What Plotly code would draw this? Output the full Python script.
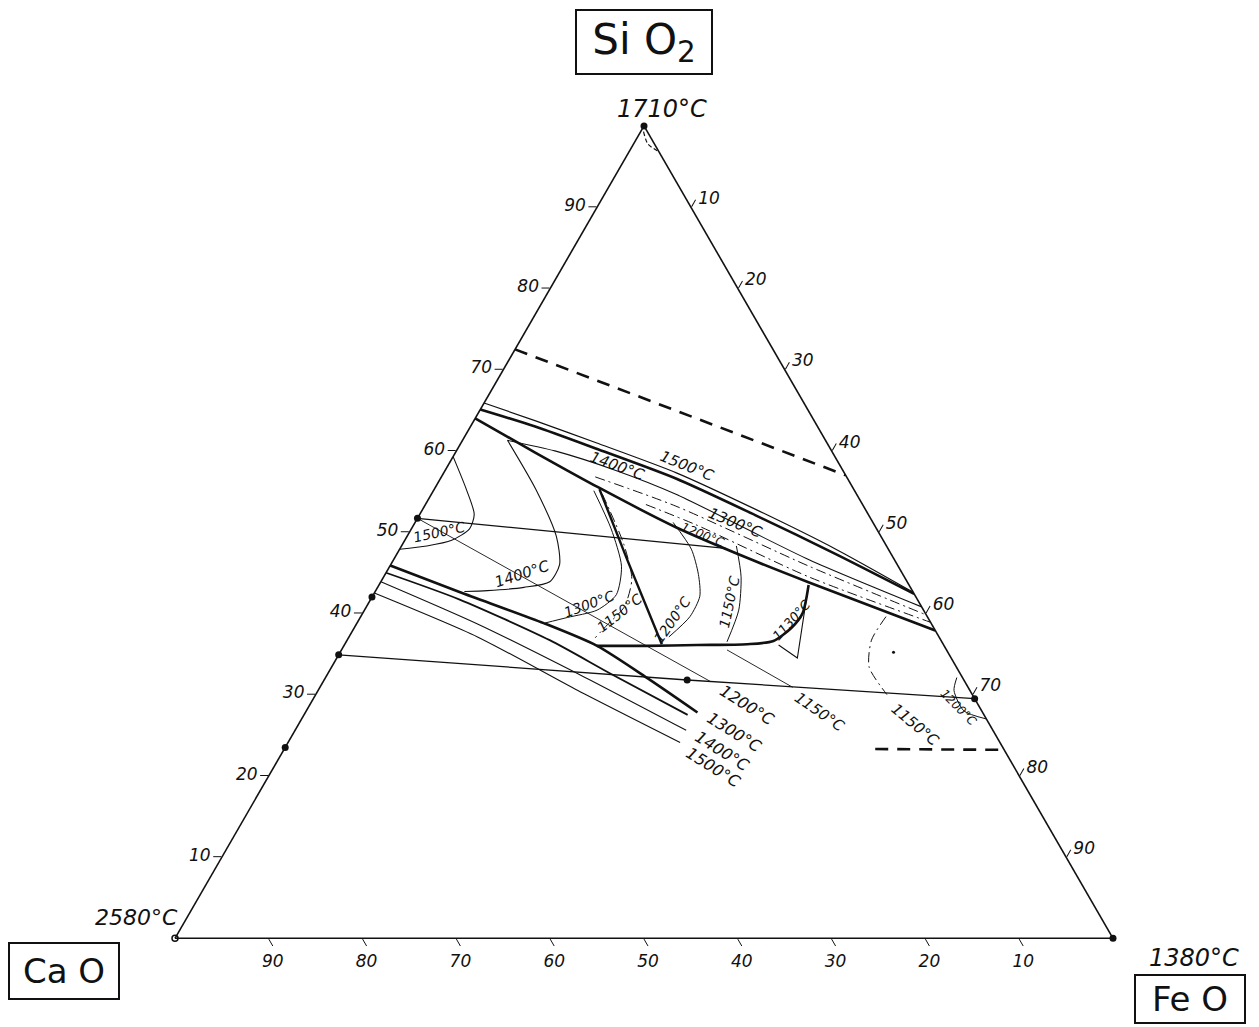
import math
import plotly.graph_objects as go

INK = "#111111"
FIG_W, FIG_H = 1259, 1027
# triangle placement (pixels): left corner x, side length, baseline y
TRI_LEFT, TRI_SIDE, TRI_BASE = 175.0, 938.0, 938.3
TRI_H = TRI_SIDE * math.sqrt(3) / 2

TICKS = [10, 20, 30, 40, 50, 60, 70, 80, 90]

# ---- compositions in wt.%: SiO2 and FeO, CaO is the balance ----
# 1500 °C liquidus in the silica field (drawn as a double line)
iso1500_top_sio2 = [65.9, 63.7, 61.0, 57.3, 52.8, 47.9, 42.6]
iso1500_top_feo = [0.0, 6.6, 14.4, 24.8, 35.5, 46.5, 57.4]
iso1500_sio2 = [65.1, 63.0, 60.3, 56.6, 52.1, 47.3, 42.4]
iso1500_feo = [0.0, 6.9, 14.7, 25.1, 35.8, 46.8, 57.6]

# silica field boundary
silica_bnd_sio2 = [64.0, 59.8, 55.5, 50.6, 46.9, 43.8, 37.9]
silica_bnd_feo = [0.0, 8.5, 17.4, 28.1, 37.4, 45.7, 62.1]

# 1400 °C isotherm: silica-field branch and wollastonite-field loop
iso1400_si_sio2 = [40.8, 46.6, 54.7, 57.6, 60.0, 61.3]
iso1400_si_feo = [59.2, 44.3, 26.0, 18.2, 10.5, 4.8]
iso1400_wo_sio2 = [61.3, 55.3, 49.5, 46.0, 43.9, 43.2, 42.8, 42.7]
iso1400_wo_feo = [4.8, 10.8, 15.9, 18.0, 18.0, 15.6, 11.9, 9.5]

# 1300 / 1200 °C isotherms in the silica field (dash-dot)
iso1300_si_sio2 = [56.8, 53.2, 45.8, 39.8]
iso1300_si_feo = [16.4, 26.8, 44.7, 60.2]
iso1200_si_sio2 = [53.4, 50.9, 44.5, 38.9]
iso1200_si_feo = [23.5, 30.1, 45.3, 61.1]

# 1500 °C loop near CaO·SiO2
iso1500_wo_sio2 = [59.3, 55.3, 52.2, 50.4, 49.0, 48.3, 47.9]
iso1500_wo_feo = [0.0, 3.4, 5.8, 6.2, 5.0, 2.7, 0.0]

# wollastonite / olivine field boundaries
wo_bnd_sio2 = [55.3, 46.5, 36.2]
wo_bnd_feo = [17.6, 25.0, 33.8]
ol_bnd_sio2 = [36.0, 36.0, 36.1, 36.2, 36.6, 38.2, 40.0, 43.5]
ol_bnd_feo = [27.0, 32.3, 37.6, 42.9, 45.5, 46.6, 46.9, 45.8]
eut_sio2 = [43.2, 34.5, 36.1]
eut_feo = [45.9, 49.1, 46.3]

# isotherms inside the wollastonite field
iso1300_wo_sio2 = [55.1, 50.4, 45.8, 42.3, 40.4, 39.5, 38.8]
iso1300_wo_feo = [17.1, 21.3, 24.7, 25.9, 24.8, 22.1, 20.0]
iso1150_wo_sio2 = [54.7, 48.5, 44.2, 40.8, 38.6, 37.0]
iso1150_wo_feo = [18.2, 23.6, 26.6, 27.5, 26.8, 26.3]
iso1200_wo_sio2 = [51.2, 47.9, 44.8, 42.1, 39.6, 37.1]
iso1200_wo_feo = [27.5, 31.1, 33.4, 34.9, 35.1, 34.1]
iso1150_mid_sio2 = [48.3, 44.5, 40.4, 36.5]
iso1150_mid_feo = [35.7, 38.1, 39.9, 40.6]
iso1150_ol_sio2 = [39.6, 36.7, 33.4, 30.0]
iso1150_ol_feo = [56.0, 55.9, 57.3, 60.9]
iso1200_fa_sio2 = [32.1, 30.5, 28.0, 27.0]
iso1200_fa_feo = [67.3, 67.8, 70.1, 73.0]

# isotherms of the dicalcium silicate field
iso1200_cs_sio2 = [45.9, 42.6, 38.8, 36.0, 32.0, 27.8]
iso1200_cs_feo = [0.0, 9.1, 19.9, 27.0, 34.4, 41.8]
iso1300_cs_sio2 = [45.0, 41.7, 36.7, 32.6, 27.5]
iso1300_cs_feo = [0.0, 9.5, 21.6, 30.1, 40.9]
iso1400_cs_sio2 = [43.9, 38.7, 32.6, 25.6]
iso1400_cs_feo = [0.0, 12.9, 26.6, 41.7]
iso1500_cs_sio2 = [42.5, 37.1, 30.5, 24.1]
iso1500_cs_feo = [0.0, 13.7, 27.7, 41.8]

# joins
join_wo_sio2 = [51.7, 48.0]
join_wo_feo = [0.0, 34.7]
join_c2s_fa_sio2 = [34.9, 31.8, 29.5]
join_c2s_fa_feo = [0.0, 38.7, 70.5]
tie1_sio2 = [51.7, 31.6]
tie1_feo = [0.0, 41.3]
tie2_sio2 = [35.5, 30.9]
tie2_feo = [41.1, 50.4]

# two-liquid limits (dashed)
gap_top_sio2 = [72.5, 57.0]
gap_top_feo = [0.0, 43.0]
gap_apex_sio2 = [99.3, 97.8, 96.8]
gap_apex_feo = [0.3, 1.5, 3.2]
gap_fe_sio2 = [23.3, 23.2]
gap_fe_feo = [63.0, 76.8]

# compounds and end members
edge_dot_sio2 = [51.7, 42.0, 34.9, 23.5, 31.8, 29.5, 100.0, 0.0]
edge_dot_feo = [0.0, 0.0, 0.0, 0.0, 38.7, 70.5, 0.0, 100.0]
minor_dot_sio2 = [35.2]
minor_dot_feo = [59.0]

# temperature labels
label_text = ["1500°C", "1400°C", "1300°C", "1200°C", "1500°C", "1400°C",
              "1300°C", "1150°C", "1200°C", "1150°C", "1130°C", "1200°C",
              "1300°C", "1400°C", "1500°C", "1150°C", "1150°C", "1200°C"]
label_sio2 = [58.2, 58.1, 51.1, 49.6, 50.0, 44.8, 41.1, 40.1, 39.2, 41.4,
              39.2, 28.7, 25.3, 23.0, 21.0, 27.8, 26.3, 28.4]
label_feo = [25.5, 18.1, 34.2, 31.5, 3.2, 14.6, 23.6, 27.3, 33.4, 38.4,
             46.2, 46.7, 47.0, 46.9, 46.9, 54.8, 65.8, 69.4]
label_angle = [22, 20, 22, 22, -12, -18, -20, -38, -55, -78, -48, 32, 32,
               32, 32, 35, 40, 45]
label_size = [15, 15, 15, 12, 14, 15, 14, 14, 14, 14, 13, 16, 16, 16, 16,
              15, 15, 12]

fig = go.Figure()


def add_curve(sio2, feo, width=1.0, dash="solid", smooth=True):
    cao = [round(100 - s - f, 2) for s, f in zip(sio2, feo)]
    fig.add_trace(go.Scatterternary(
        a=sio2, b=cao, c=feo, mode="lines",
        line=dict(color=INK, width=width, dash=dash,
                  shape="spline" if smooth else "linear", smoothing=0.7),
        hoverinfo="skip", showlegend=False, cliponaxis=False))


DASHDOT = "10px,4px,2px,4px"
GAPDASH = "13px,9px"

add_curve(iso1500_top_sio2, iso1500_top_feo, 1.2)
add_curve(iso1500_sio2, iso1500_feo, 2.6)
add_curve(silica_bnd_sio2, silica_bnd_feo, 2.6)
add_curve(iso1400_si_sio2, iso1400_si_feo, 1.1)
add_curve(iso1400_wo_sio2, iso1400_wo_feo, 1.1)
add_curve(iso1300_si_sio2, iso1300_si_feo, 1.0, DASHDOT)
add_curve(iso1200_si_sio2, iso1200_si_feo, 1.0, DASHDOT)
add_curve(iso1500_wo_sio2, iso1500_wo_feo, 1.1)
add_curve(wo_bnd_sio2, wo_bnd_feo, 2.4, smooth=False)
add_curve(ol_bnd_sio2, ol_bnd_feo, 2.6)
add_curve(eut_sio2, eut_feo, 1.1, smooth=False)
add_curve(iso1300_wo_sio2, iso1300_wo_feo, 1.0)
add_curve(iso1150_wo_sio2, iso1150_wo_feo, 1.0, DASHDOT)
add_curve(iso1200_wo_sio2, iso1200_wo_feo, 1.0)
add_curve(iso1150_mid_sio2, iso1150_mid_feo, 1.0)
add_curve(iso1150_ol_sio2, iso1150_ol_feo, 1.0, DASHDOT)
add_curve(iso1200_fa_sio2, iso1200_fa_feo, 1.0)
add_curve(iso1200_cs_sio2, iso1200_cs_feo, 2.6)
add_curve(iso1300_cs_sio2, iso1300_cs_feo, 1.8)
add_curve(iso1400_cs_sio2, iso1400_cs_feo, 1.1)
add_curve(iso1500_cs_sio2, iso1500_cs_feo, 1.1)
add_curve(join_wo_sio2, join_wo_feo, 1.3, smooth=False)
add_curve(join_c2s_fa_sio2, join_c2s_fa_feo, 1.3, smooth=False)
add_curve(tie1_sio2, tie1_feo, 0.9, smooth=False)
add_curve(tie2_sio2, tie2_feo, 0.9, smooth=False)
add_curve(gap_top_sio2, gap_top_feo, 2.6, GAPDASH, smooth=False)
add_curve(gap_apex_sio2, gap_apex_feo, 1.2, "4px,3px")
add_curve(gap_fe_sio2, gap_fe_feo, 2.6, GAPDASH, smooth=False)

fig.add_trace(go.Scatterternary(
    a=edge_dot_sio2, c=edge_dot_feo,
    b=[100 - s - f for s, f in zip(edge_dot_sio2, edge_dot_feo)],
    mode="markers", marker=dict(color=INK, size=7),
    hoverinfo="skip", showlegend=False, cliponaxis=False))
fig.add_trace(go.Scatterternary(
    a=minor_dot_sio2, c=minor_dot_feo,
    b=[100 - s - f for s, f in zip(minor_dot_sio2, minor_dot_feo)],
    mode="markers", marker=dict(color=INK, size=3),
    hoverinfo="skip", showlegend=False))
fig.add_trace(go.Scatterternary(
    a=[0.0], b=[100.0], c=[0.0], mode="markers",
    marker=dict(color="white", size=6, line=dict(color=INK, width=1.5)),
    hoverinfo="skip", showlegend=False, cliponaxis=False))


def to_paper(sio2, feo):
    """Position of a composition on the page, in paper fractions."""
    px = TRI_LEFT + TRI_SIDE * (feo + sio2 / 2) / 100
    py = TRI_BASE - TRI_H * sio2 / 100
    return px / FIG_W, 1 - py / FIG_H


annotations = []
for txt, s, f, ang, sz in zip(label_text, label_sio2, label_feo,
                              label_angle, label_size):
    x, y = to_paper(s, f)
    annotations.append(dict(
        x=x, y=y, xref="paper", yref="paper", text=txt, showarrow=False,
        textangle=ang, xanchor="center", yanchor="middle",
        font=dict(family="DejaVu Sans", size=sz, color=INK, style="italic")))


def page_text(x, y, text, size, italic=True, box=None):
    item = dict(x=x / FIG_W, y=1 - y / FIG_H, xref="paper", yref="paper",
                text=text, showarrow=False, xanchor="center",
                yanchor="middle",
                font=dict(family="DejaVu Sans", size=size, color=INK,
                          style="italic" if italic else "normal"))
    if box:
        item.update(width=box[0], height=box[1], bordercolor=INK,
                    borderwidth=2, borderpad=0, bgcolor="white")
    annotations.append(item)


page_text(644, 42, "Si O<sub>2</sub>", 42, italic=False, box=(134, 62))
page_text(64, 971, "Ca O", 34, italic=False, box=(108, 54))
page_text(1190, 999, "Fe O", 34, italic=False, box=(108, 46))
page_text(662, 109, "1710°C", 24)
page_text(136, 917, "2580°C", 22)
page_text(1194, 958, "1380°C", 24)

axis_style = dict(
    showgrid=False, showline=True, linecolor=INK, linewidth=1.6,
    ticks="outside", ticklen=8, tickwidth=1.4, tickcolor=INK,
    tickvals=TICKS, ticktext=[str(t) for t in TICKS],
    tickfont=dict(family="DejaVu Sans", size=17, color=INK, style="italic"),
    title=dict(text=""), min=0)

fig.update_layout(
    width=FIG_W, height=FIG_H, autosize=False,
    margin=dict(l=0, r=0, t=0, b=0),
    paper_bgcolor="white", plot_bgcolor="white",
    showlegend=False,
    ternary=dict(
        sum=100, bgcolor="white",
        domain=dict(x=[TRI_LEFT / FIG_W, (TRI_LEFT + TRI_SIDE) / FIG_W],
                    y=[1 - TRI_BASE / FIG_H, 1 - (TRI_BASE - TRI_H) / FIG_H]),
        aaxis=axis_style, baxis=axis_style, caxis=axis_style),
    annotations=annotations)

fig.write_html("out.html")
